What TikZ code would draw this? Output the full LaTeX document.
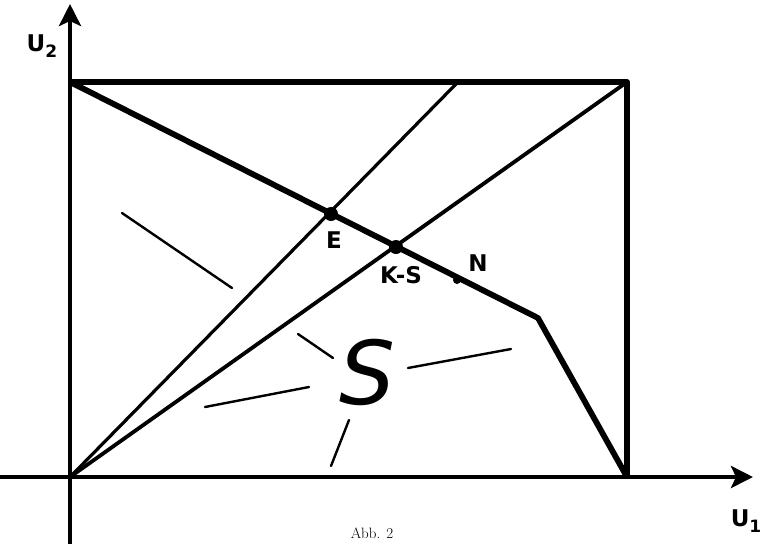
\documentclass[tikz,border=0pt]{standalone}
\usepackage{fontspec}
\setsansfont{DejaVu Sans}
\usetikzlibrary{arrows.meta}
\begin{document}
\begin{tikzpicture}[x=1pt,y=-1pt,
  axis/.style={line width=4.2pt,-{Stealth[length=22pt,width=22pt,inset=5pt]}},
  frame/.style={line width=5.8pt,line join=round},
  ray/.style={line width=3.8pt},
  thinray/.style={line width=3.2pt},
  stroke/.style={line width=2.4pt,line cap=round},
  dot/.style={circle,fill=black,inner sep=0pt,minimum size=14pt},
  smalldot/.style={circle,fill=black,inner sep=0pt,minimum size=8pt},
  lab/.style={font=\sffamily\bfseries\fontsize{23}{23}\selectfont,inner sep=0pt}]
\useasboundingbox (0,0) rectangle (762,544);
% key coordinates
\coordinate (O) at (70,477);
\coordinate (TL) at (70,82);
\coordinate (TR) at (627,82);
\coordinate (BR) at (627,477);
\coordinate (K) at (538,318);
\coordinate (Etop) at (458,82);
\coordinate (Ybot) at (70,544);
\coordinate (Ytop) at (70,4);
\coordinate (Xleft) at (0,477);
\coordinate (Xright) at (753,477);
% axes
\draw[axis] (Ybot) -- (Ytop);
\draw[axis] (Xleft) -- (Xright);
% rectangle
\draw[frame] (TL) -- (TR) -- (BR);
% rays from origin
\draw[thinray] (O) -- (Etop);
\draw[ray] (O) -- (TR);
% frontier
\draw[frame] (TL) -- (K) -- (BR);
% points
\node[dot] (E) at (331,214) {};
\node[dot] (KS) at (396,247) {};
\node[smalldot] (N) at (457,280) {};
% labels
\node[lab] (U2) at (42,46) {U\raisebox{-6pt}{\fontsize{17}{17}\selectfont 2}};
\node[lab] (U1) at (746,521) {U\raisebox{-6pt}{\fontsize{17}{17}\selectfont 1}};
\node[lab] (El) at (334,240) {E};
\node[lab] (KSl) at (401,275) {K-S};
\node[lab] (Nl) at (478,263) {N};
\node[font=\sffamily\fontsize{88}{88}\selectfont,inner sep=0pt] (S) at (367,372) {\textit{S}};
% radiating strokes
\draw[stroke] (122,213) -- (232,288);
\draw[stroke] (298,334) -- (333,358);
\draw[stroke] (205,407) -- (309,387);
\draw[stroke] (408,368) -- (511,349);
\draw[stroke] (349,420) -- (331,466);
% caption
\node[font=\fontsize{15}{15}\selectfont,anchor=south,inner sep=0pt] (cap) at (372,539) {Abb. 2};
\end{tikzpicture}
\end{document}
